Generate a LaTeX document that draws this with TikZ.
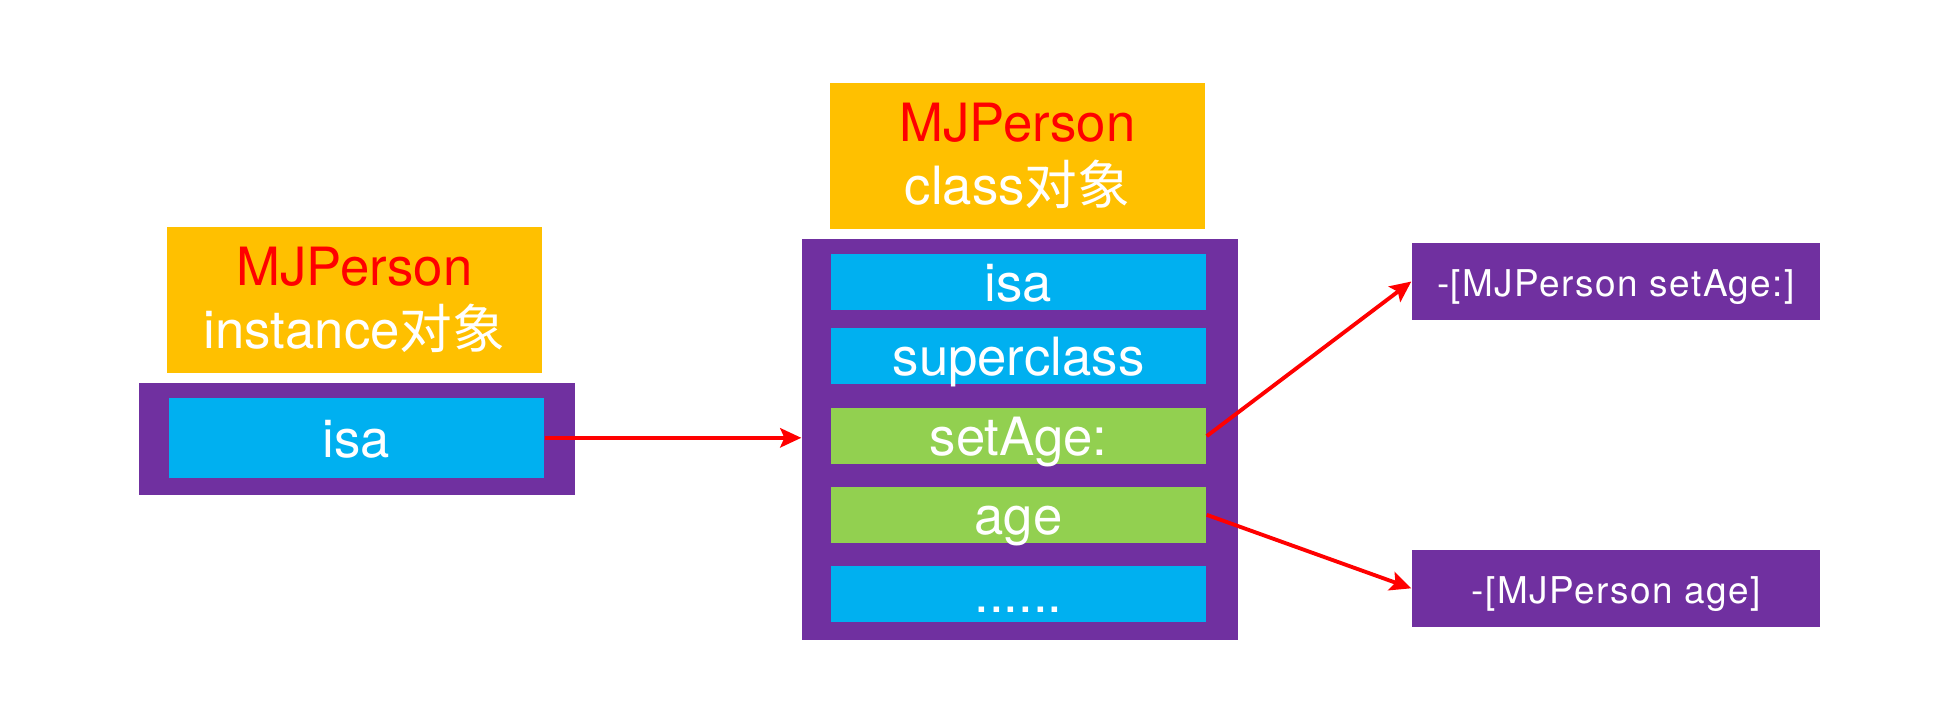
\documentclass[tikz,border=0pt]{standalone}
\usepackage{fontspec}
\setmainfont{TeX Gyre Heros}
\newfontfamily\cjk{Noto Sans CJK SC}
\newfontfamily\implfont[LetterSpace=4]{TeX Gyre Heros}
\usetikzlibrary{arrows.meta,positioning}
\definecolor{HeadGold}{HTML}{FFC000}
\definecolor{PanelPurple}{HTML}{7030A0}
\definecolor{FieldBlue}{HTML}{00B0F0}
\definecolor{FieldGreen}{HTML}{92D050}
\definecolor{LinkRed}{HTML}{FF0000}

\begin{document}
\begin{tikzpicture}[
  node distance=2.13mm,
  header/.style={fill=HeadGold,text=white,minimum width=37.5mm,minimum height=14.6mm,inner sep=0pt,align=center,font=\fontsize{15}{18}\selectfont},
  panel/.style={fill=PanelPurple,inner sep=0pt},
  field/.style={fill=FieldBlue,text=white,minimum width=37.5mm,minimum height=5.6mm,inner sep=0pt,text height=13pt,text depth=2pt,font=\fontsize{15}{18}\selectfont},
  method/.style={field,fill=FieldGreen},
  impl/.style={fill=PanelPurple,text=white,minimum width=40.8mm,minimum height=7.7mm,inner sep=0pt,text height=9.5pt,text depth=1pt,font=\implfont\fontsize{10.5}{12}\selectfont},
  arrow/.style={-{Stealth[length=6pt,width=5.5pt,inset=1.2pt]},LinkRed,line width=1.1pt}
]
  \useasboundingbox (0,0) rectangle (19.48,-7.06);

  % instance object
  \node[header] (ihead) at (3.544,-3.0) {\textcolor{LinkRed}{MJPerson}\\instance{\cjk 对象}};
  \node[panel,minimum width=43.6mm,minimum height=11.2mm] (ipanel) at (3.57,-4.389) {};
  \node[field,minimum height=7.97mm] (iisa) at (3.565,-4.378) {isa};

  % class object
  \node[header] (chead) at (10.175,-1.559) {\textcolor{LinkRed}{MJPerson}\\class{\cjk 对象}};
  \node[panel,minimum width=43.6mm,minimum height=40.07mm] (cpanel) at (10.2,-4.393) {};
  \node[field] (cisa) at (10.185,-2.82) {isa};
  \node[field, below=1.7mm of cisa] (csuper) {superclass};
  \node[method, below=2.23mm of csuper] (cset) {setAge:};
  \node[method, below=of cset] (cage) {age};
  \node[field, below=of cage] (cmore) {......};

  % method implementations
  \node[impl] (mset) at (16.16,-2.815) {-[MJPerson setAge:]};
  \node[impl] (mage) at (16.16,-5.883) {-[MJPerson age]};

  \draw[arrow] (iisa.east) -- (iisa.east -| cpanel.west);
  \draw[arrow] (cset.east) -- (mset.west);
  \draw[arrow] (cage.east) -- (mage.west);
\end{tikzpicture}
\end{document}
